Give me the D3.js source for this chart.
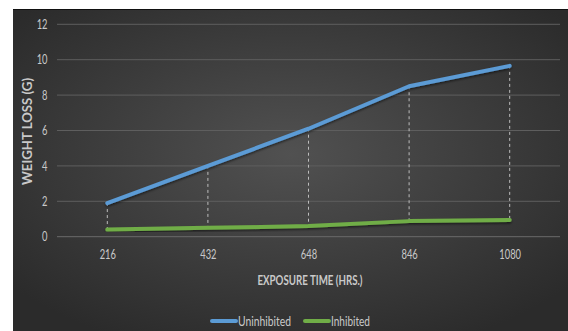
<!DOCTYPE html>
<html>
<head>
<meta charset="utf-8">
<script src="https://cdn.jsdelivr.net/npm/d3@7/dist/d3.min.js"></script>
<style>
  html, body { margin: 0; padding: 0; background: #ffffff; }
  svg { display: block; }
  text { font-family: Lato, "Open Sans", "Liberation Sans", sans-serif; }
</style>
</head>
<body>
<svg id="chart" width="568" height="331"></svg>
<script>
// Exposure time categories (hours)
const categories = ["216", "432", "648", "846", "1080"];
// Weight loss in grams for each series
const uninhibited = [1.9, 4.0, 6.1, 8.5, 9.65];
const inhibited = [0.4, 0.5, 0.6, 0.88, 0.95];
const yTicks = [0, 2, 4, 6, 8, 10, 12];
const seriesNames = ["Uninhibited", "Inhibited"];
const seriesColors = ["#5b9bd5", "#70ad47"];

const W = 568, H = 331;
const panel = { x: 13, y: 9, w: 555, h: 322 };
const plot = { left: 57, right: 560, top: 24.3, bottom: 236.7 };
const textColor = "#c9c9c9";
const narrow = 0.72; // horizontal squeeze for the condensed label face

const svg = d3.select("#chart");
const defs = svg.append("defs");

const bg = defs.append("radialGradient")
  .attr("id", "bgGrad")
  .attr("cx", "50%").attr("cy", "45%").attr("r", "65%");
bg.append("stop").attr("offset", "0%").attr("stop-color", "#515151");
bg.append("stop").attr("offset", "100%").attr("stop-color", "#2b2b2b");

const shadow = defs.append("filter").attr("id", "lineShadow")
  .attr("x", "-5%").attr("y", "-20%").attr("width", "110%").attr("height", "140%");
shadow.append("feDropShadow")
  .attr("dx", 0).attr("dy", 1.5).attr("stdDeviation", 1.2)
  .attr("flood-color", "#000").attr("flood-opacity", 0.55);

// Chart panel
svg.append("rect")
  .attr("x", panel.x).attr("y", panel.y)
  .attr("width", panel.w).attr("height", panel.h)
  .attr("fill", "url(#bgGrad)");
svg.append("line")
  .attr("x1", panel.x).attr("x2", W)
  .attr("y1", panel.y + 0.5).attr("y2", panel.y + 0.5)
  .attr("stroke", "#111").attr("stroke-width", 1);

const x = d3.scalePoint()
  .domain(categories)
  .range([plot.left, plot.right])
  .padding(0.5);

const y = d3.scaleLinear()
  .domain([0, 12])
  .range([plot.bottom, plot.top]);

// Horizontal gridlines
svg.append("g")
  .selectAll("line")
  .data(yTicks)
  .join("line")
  .attr("x1", plot.left).attr("x2", plot.right)
  .attr("y1", d => y(d)).attr("y2", d => y(d))
  .attr("stroke", d => d === 0 ? "#6a6a6a" : "#5e5e5e")
  .attr("stroke-width", 1);

// Y axis tick labels
const yAxis = d3.axisLeft(y).tickValues(yTicks).tickSize(0).tickPadding(0);
svg.append("g")
  .attr("transform", `translate(${plot.left - 9.5},0)`)
  .call(yAxis)
  .call(g => g.select(".domain").remove())
  .call(g => g.selectAll("text")
    .attr("fill", textColor)
    .attr("font-size", 13)
    .attr("transform", `scale(${narrow},1)`));

// X axis tick labels
const xAxis = d3.axisBottom(x).tickSize(0).tickPadding(0);
svg.append("g")
  .attr("transform", `translate(0,${plot.bottom + 13})`)
  .call(xAxis)
  .call(g => g.select(".domain").remove())
  .call(g => g.selectAll("text")
    .attr("fill", textColor)
    .attr("font-size", 13)
    .attr("transform", `scale(${narrow},1)`));

// High-low lines between the two series
svg.append("g")
  .selectAll("line")
  .data(categories)
  .join("line")
  .attr("x1", d => x(d)).attr("x2", d => x(d))
  .attr("y1", (d, i) => y(uninhibited[i]))
  .attr("y2", (d, i) => y(inhibited[i]))
  .attr("stroke", "#bdbdbd")
  .attr("stroke-width", 1)
  .attr("stroke-dasharray", "3,3");

// Series lines
const line = d3.line()
  .x((d, i) => x(categories[i]))
  .y(d => y(d));

[uninhibited, inhibited].forEach((vals, k) => {
  svg.append("path")
    .datum(vals)
    .attr("d", line)
    .attr("fill", "none")
    .attr("stroke", seriesColors[k])
    .attr("stroke-width", 4)
    .attr("stroke-linecap", "round")
    .attr("stroke-linejoin", "round")
    .attr("filter", "url(#lineShadow)");
});

// Axis titles
svg.append("text")
  .attr("transform", `translate(32,${131.5}) rotate(-90)`)
  .attr("text-anchor", "middle")
  .attr("fill", textColor)
  .attr("font-size", 13)
  .attr("font-weight", "bold")
  .attr("textLength", 107)
  .attr("lengthAdjust", "spacingAndGlyphs")
  .text("WEIGHT LOSS (G)");

svg.append("text")
  .attr("x", 310)
  .attr("y", 284.5)
  .attr("text-anchor", "middle")
  .attr("fill", textColor)
  .attr("font-size", 13)
  .attr("font-weight", "bold")
  .attr("textLength", 105)
  .attr("lengthAdjust", "spacingAndGlyphs")
  .text("EXPOSURE TIME (HRS.)");

// Legend
const legendItems = [
  { name: seriesNames[0], color: seriesColors[0], x: 212, w: 53 },
  { name: seriesNames[1], color: seriesColors[1], x: 305, w: 39 }
];
const lg = svg.append("g");
legendItems.forEach(item => {
  lg.append("line")
    .attr("x1", item.x).attr("x2", item.x + 24)
    .attr("y1", 321).attr("y2", 321)
    .attr("stroke", item.color)
    .attr("stroke-width", 4)
    .attr("stroke-linecap", "round");
  lg.append("text")
    .attr("x", item.x + 26)
    .attr("y", 325.5)
    .attr("fill", textColor)
    .attr("font-size", 13)
    .attr("textLength", item.w)
    .attr("lengthAdjust", "spacingAndGlyphs")
    .text(item.name);
});
</script>
</body>
</html>
